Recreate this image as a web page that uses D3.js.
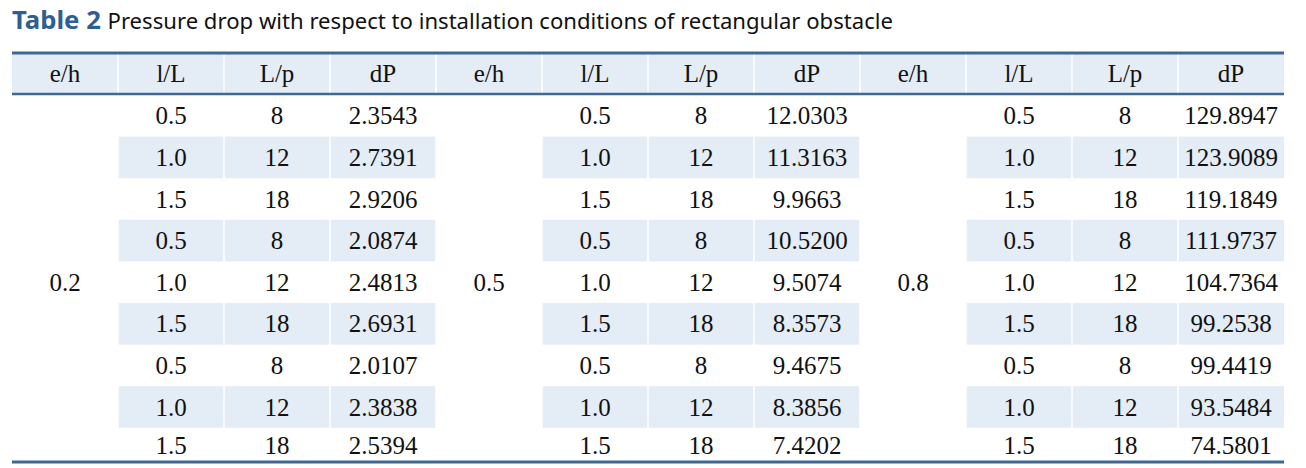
<!DOCTYPE html>
<html>
<head>
<meta charset="utf-8">
<script src="https://cdn.jsdelivr.net/npm/d3@7"></script>
<style>
  body { margin: 0; background: #fff; }
  svg { display: block; }
</style>
</head>
<body>
<div id="table"></div>
<script>
var headers = ["e/h", "l/L", "L/p", "dP"];
var ehValues = ["0.2", "0.5", "0.8"];
var lLValues = ["0.5", "1.0", "1.5", "0.5", "1.0", "1.5", "0.5", "1.0", "1.5"];
var LpValues = ["8", "12", "18", "8", "12", "18", "8", "12", "18"];
var dP02 = ["2.3543", "2.7391", "2.9206", "2.0874", "2.4813", "2.6931", "2.0107", "2.3838", "2.5394"];
var dP05 = ["12.0303", "11.3163", "9.9663", "10.5200", "9.5074", "8.3573", "9.4675", "8.3856", "7.4202"];
var dP08 = ["129.8947", "123.9089", "119.1849", "111.9737", "104.7364", "99.2538", "99.4419", "93.5484", "74.5801"];
var dPGroups = [dP02, dP05, dP08];

var W = 1306, H = 468;
var left = 12, right = 1284;
var headTop = 53, headBottom = 94, tableBottom = 462;
var blue = "#3e6896", shade = "#e4ecf6";

var svg = d3.select("#table").append("svg")
    .attr("width", W)
    .attr("height", H);

// title
var title = svg.append("text")
    .attr("x", left)
    .attr("y", 29)
    .style("font-family", "'Noto Sans', 'Open Sans', sans-serif");
title.append("tspan")
    .attr("fill", "#2f5f92")
    .style("font-weight", "bold")
    .style("font-size", "25px")
    .text("Table 2 ");
title.append("tspan")
    .attr("fill", "#111")
    .style("font-size", "21.5px")
    .text("Pressure drop with respect to installation conditions of rectangular obstacle");
title.attr("textLength", 893 - left).attr("lengthAdjust", "spacingAndGlyphs");

// columns: 3 groups x 4 cols
var cols = [];
ehValues.forEach(function(e, g) { headers.forEach(function(h, c) { cols.push(g * 4 + c); }); });
var x = d3.scaleBand().domain(cols).range([left, right]);
var rows = d3.range(lLValues.length);
var y = d3.scaleBand().domain(rows).range([headBottom + 1, headBottom + 1 + 41.6 * rows.length]);

// header background
svg.append("rect")
    .attr("x", left).attr("y", headTop)
    .attr("width", right - left).attr("height", headBottom - headTop)
    .attr("fill", shade);

// shaded data rows (odd rows, not the e/h column)
var shadedCells = [];
rows.filter(function(r) { return r % 2 === 1; }).forEach(function(r) {
  cols.forEach(function(c) { if (c % 4 !== 0) shadedCells.push({ r: r, c: c }); });
});
svg.selectAll(".shade").data(shadedCells).enter().append("rect")
    .attr("class", "shade")
    .attr("x", function(d) { return x(d.c); })
    .attr("y", function(d) { return y(d.r); })
    .attr("width", x.bandwidth())
    .attr("height", y.bandwidth())
    .attr("fill", shade);

// white vertical separators
svg.selectAll(".vsep").data(cols.slice(1)).enter().append("line")
    .attr("x1", function(d) { return x(d); })
    .attr("x2", function(d) { return x(d); })
    .attr("y1", headTop).attr("y2", tableBottom)
    .attr("stroke", "#fff").attr("stroke-width", 1.5);

// horizontal rules
[[headTop, 3], [headBottom, 2.5], [tableBottom, 3]].forEach(function(l) {
  svg.append("line")
      .attr("x1", left).attr("x2", right)
      .attr("y1", l[0]).attr("y2", l[0])
      .attr("stroke", blue).attr("stroke-width", l[1]);
});

var font = "'Liberation Serif', 'Times New Roman', serif";

// header text
svg.selectAll(".head").data(cols).enter().append("text")
    .attr("class", "head")
    .attr("x", function(d) { return x(d) + x.bandwidth() / 2; })
    .attr("y", (headTop + headBottom) / 2 + 8.5)
    .attr("text-anchor", "middle")
    .style("font-family", font).style("font-size", "25px").attr("fill", "#111")
    .text(function(d) { return headers[d % 4]; });

// cell text
var cells = [];
ehValues.forEach(function(e, g) {
  rows.forEach(function(r) {
    cells.push({ c: g * 4 + 1, r: r, t: lLValues[r] });
    cells.push({ c: g * 4 + 2, r: r, t: LpValues[r] });
    cells.push({ c: g * 4 + 3, r: r, t: dPGroups[g][r] });
  });
  cells.push({ c: g * 4, r: 4, t: e });
});
svg.selectAll(".cell").data(cells).enter().append("text")
    .attr("class", "cell")
    .attr("x", function(d) { return x(d.c) + x.bandwidth() / 2; })
    .attr("y", function(d) {
      var cy = y(d.r) + y.bandwidth() / 2;
      if (d.r === rows.length - 1) cy -= 3;
      return cy + 8.5;
    })
    .attr("text-anchor", "middle")
    .style("font-family", font).style("font-size", "25px").attr("fill", "#111")
    .text(function(d) { return d.t; });
</script>
</body>
</html>
